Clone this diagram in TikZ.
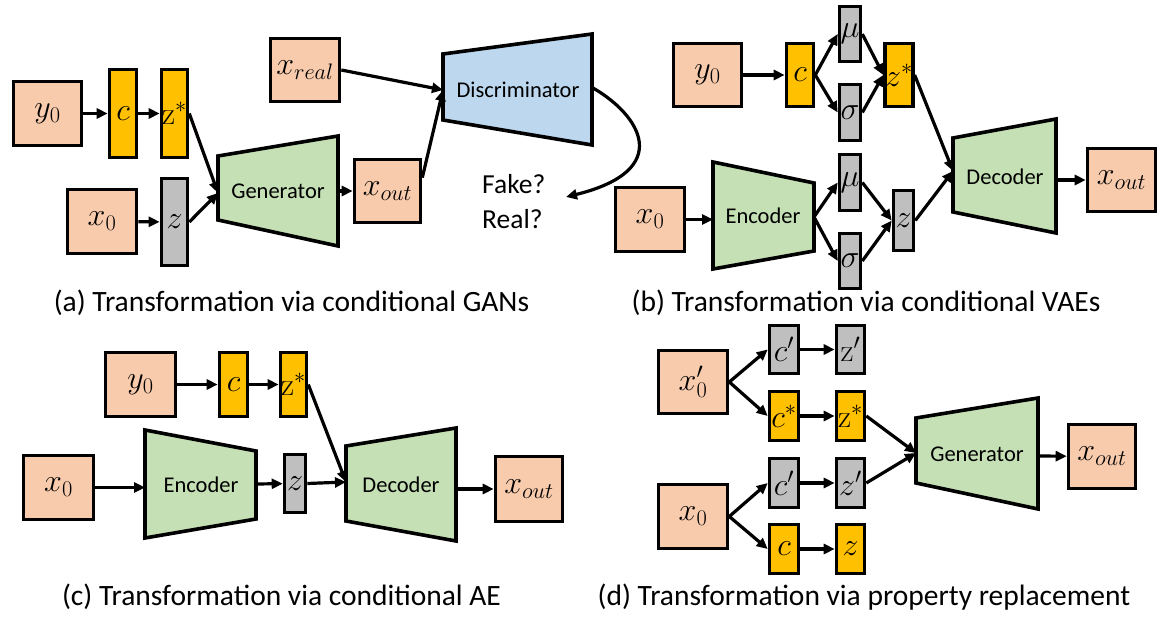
\RequirePackage{fix-cm}
\documentclass[tikz,border=0pt]{standalone}
\usepackage[no-math]{fontspec}
\setmainfont{Carlito}
\usetikzlibrary{arrows.meta,calc}
\definecolor{peachc}{HTML}{F8CBAD}
\definecolor{goldc}{HTML}{FFC000}
\definecolor{greyc}{HTML}{BFBFBF}
\definecolor{greenc}{HTML}{C5E0B4}
\definecolor{bluec}{HTML}{BDD7EE}
\newcommand{\mfs}{\fontsize{32}{38}\selectfont}
\tikzset{
  lat/.style={draw, line width=3.6pt, inner sep=0pt, font=\mfs},
  peach/.style={lat, fill=peachc, minimum width=68pt, minimum height=64pt},
  gold/.style={lat, fill=goldc},
  grey/.style={lat, fill=greyc},
  wh/.style 2 args={minimum width=#1pt, minimum height=#2pt},
  net/.style={draw, line width=3.6pt, line join=miter},
  netlabel/.style={font=\fontsize{22.5}{27}\selectfont, inner sep=0pt},
  captext/.style={font=\fontsize{29.5}{35}\selectfont, inner sep=0pt},
  arr/.style={line width=3.2pt, -{Triangle[length=11pt,width=10pt]}},
}
\begin{document}
\begin{tikzpicture}[x=1pt,y=-1pt]
\useasboundingbox (0,0) rectangle (1162,617);

% ---------------- (a) ----------------
\node[peach] (ay0) at (47.5,113.5) {$y_0$};
\node[gold, wh={27}{88}] (ac) at (123,113.5) {$c$};
\node[gold, wh={26}{88}] (azs) at (174.5,113.5) {$\mathrm{z}^*$};
\node[peach, wh={69}{64}] (ax0) at (102,221.5) {$x_0$};
\node[grey, wh={26}{87}] (az) at (174.5,222) {$z$};
\draw[net, fill=greenc] (218,156) -- (338,136) -- (338,246) -- (218,220) -- cycle;
\node[netlabel] (agen) at (278,191) {Generator};
\coordinate (agenL) at (218,193);
\coordinate (agenR) at (338,191);
\node[peach, wh={66}{63}] (axout) at (387.5,191) {$x_{out}$};
\node[peach, wh={69}{63}] (axreal) at (305,70) {$x_{real}$};
\draw[net, fill=bluec] (443,54) -- (592,34) -- (592,145) -- (443,120) -- cycle;
\node[netlabel] (adisc) at (518,90) {Discriminator};
\coordinate (adiscL) at (443,90);
\coordinate (adiscR) at (593,88);
\node[anchor=west, align=left, font=\fontsize{27.5}{35}\selectfont, inner sep=0pt] (afr) at (482,202) {Fake?\\Real?};
\coordinate (afrR) at (566,197);

\draw[arr] (ay0) -- (ac);
\draw[arr] (ac) -- (azs);
\draw[arr] (ax0) -- (az);
\draw[arr] (azs.east) -- (agenL);
\draw[arr] (az.east) -- (agenL);
\draw[arr] (agenR) -- (axout);
\draw[arr] (axreal.east) -- (adiscL);
\draw[arr] ($(axout.north east)!0.3!(axout.south east)$) -- (adiscL);
\draw[arr] (adiscR) .. controls (640,115) and (675,170) .. (afrR);
\node[captext] (capa) at (291.5,303) {(a) Transformation via conditional GANs};

% ---------------- (b) ----------------
\node[peach, wh={68}{63}] (by0) at (707.5,75) {$y_0$};
\node[gold, wh={27}{63}] (bc) at (800,75) {$c$};
\node[grey, wh={21}{55}] (bmu1) at (850,34) {$\mu$};
\node[grey, wh={21}{56}] (bsig1) at (850,112.5) {$\sigma$};
\node[gold, wh={27}{63}] (bzs) at (899,75) {$z^*$};
\node[peach, wh={69}{64}] (bx0) at (650,219.5) {$x_0$};
\draw[net, fill=greenc] (713,162) -- (814,183) -- (814,251) -- (713,269) -- cycle;
\node[netlabel] (benc) at (763,216) {Encoder};
\coordinate (bencL) at (713,219.5);
\coordinate (bencR) at (814,217);
\node[grey, wh={21}{56}] (bmu2) at (850,182.5) {$\mu$};
\node[grey, wh={21}{55}] (bsig2) at (850,261) {$\sigma$};
\node[grey, wh={20}{60}] (bz) at (903.5,220.5) {$z$};
\draw[net, fill=greenc] (953,138) -- (1056,119) -- (1056,233) -- (953,212) -- cycle;
\node[netlabel] (bdec) at (1005,177) {Decoder};
\coordinate (bdecL) at (953,171);
\coordinate (bdecR) at (1056,180);
\node[peach, wh={68}{63}] (bxout) at (1121.5,180) {$x_{out}$};

\draw[arr] (by0) -- (bc);
\draw[arr] (bc.east) -- (bmu1.west);
\draw[arr] (bc.east) -- (bsig1.west);
\draw[arr] (bmu1.east) -- (bzs.west);
\draw[arr] (bsig1.east) -- (bzs.west);
\draw[arr] (bzs.east) -- (bdecL);
\draw[arr] (bx0.east) -- (bencL);
\draw[arr] (bencR) -- (bmu2.west);
\draw[arr] (bencR) -- (bsig2.west);
\draw[arr] (bmu2.east) -- (bz.west);
\draw[arr] (bsig2.east) -- (bz.west);
\draw[arr] (bz.east) -- (bdecL);
\draw[arr] (bdecR) -- (bxout);
\node[captext] (capb) at (866,303) {(b) Transformation via conditional VAEs};

% ---------------- (c) ----------------
\node[peach, wh={70}{64}] (cy0) at (140.5,384.5) {$y_0$};
\node[gold, wh={28}{64}] (cc) at (233.5,384.5) {$c$};
\node[gold, wh={26}{64}] (czs) at (293.5,384.5) {$\mathrm{z}^*$};
\node[peach, wh={70}{64}] (cx0) at (58.5,487.5) {$x_0$};
\draw[net, fill=greenc] (145,430) -- (256,451) -- (256,519) -- (145,538) -- cycle;
\node[netlabel] (cenc) at (201,485) {Encoder};
\coordinate (cencL) at (145,487.5);
\coordinate (cencR) at (256,484);
\node[grey, wh={21}{58}] (cz) at (295,483.5) {$z$};
\draw[net, fill=greenc] (346,446) -- (456,428) -- (456,541) -- (346,521) -- cycle;
\node[netlabel] (cdec) at (401,485) {Decoder};
\coordinate (cdecL) at (346,482);
\coordinate (cdecR) at (456,489);
\node[peach, wh={67}{65}] (cxout) at (529,489) {$x_{out}$};

\draw[arr] (cy0) -- (cc);
\draw[arr] (cc) -- (czs);
\draw[arr] (cx0.east) -- (cencL);
\draw[arr] (cencR) -- (cz);
\draw[arr] (cz.east) -- (cdecL);
\draw[arr] (czs.east) -- (cdecL);
\draw[arr] (cdecR) -- (cxout);
\node[captext] (capc) at (281.5,597) {(c) Transformation via conditional AE};

% ---------------- (d) ----------------
\node[peach, wh={69}{63}] (dx0p) at (693,382) {$x_0'$};
\node[peach, wh={69}{64}] (dx0) at (693,516.5) {$x_0$};
\node[grey, wh={29}{48}] (dc1) at (784,349.5) {$c'$};
\node[gold, wh={29}{49}] (dc2) at (784,416) {$c^*$};
\node[grey, wh={29}{49}] (dc3) at (784,483) {$c'$};
\node[gold, wh={29}{49}] (dc4) at (784,549) {$c$};
\node[grey, wh={28}{48}] (dz1) at (850.5,349.5) {$\mathrm{z}'$};
\node[gold, wh={28}{49}] (dz2) at (850.5,416) {$\mathrm{z}^*$};
\node[grey, wh={28}{49}] (dz3) at (850.5,483) {$z'$};
\node[gold, wh={28}{49}] (dz4) at (850.5,549) {$z$};
\draw[net, fill=greenc] (916,418) -- (1038,398) -- (1038,509) -- (916,483) -- cycle;
\node[netlabel] (dgen) at (977,454) {Generator};
\coordinate (dgenL) at (916,453);
\coordinate (dgenR) at (1038,456);
\node[peach, wh={67}{64}] (dxout) at (1102,456.5) {$x_{out}$};

\draw[arr] (dx0p.east) -- (dc1.west);
\draw[arr] (dx0p.east) -- (dc2.west);
\draw[arr] (dx0.east) -- (dc3.west);
\draw[arr] (dx0.east) -- (dc4.west);
\draw[arr] (dc1) -- (dz1);
\draw[arr] (dc2) -- (dz2);
\draw[arr] (dc3) -- (dz3);
\draw[arr] (dc4) -- (dz4);
\draw[arr] (dz2.east) -- (dgenL);
\draw[arr] (dz3.east) -- (dgenL);
\draw[arr] (dgenR) -- (dxout);
\node[captext] (capd) at (864,597) {(d) Transformation via property replacement};
\end{tikzpicture}
\end{document}
